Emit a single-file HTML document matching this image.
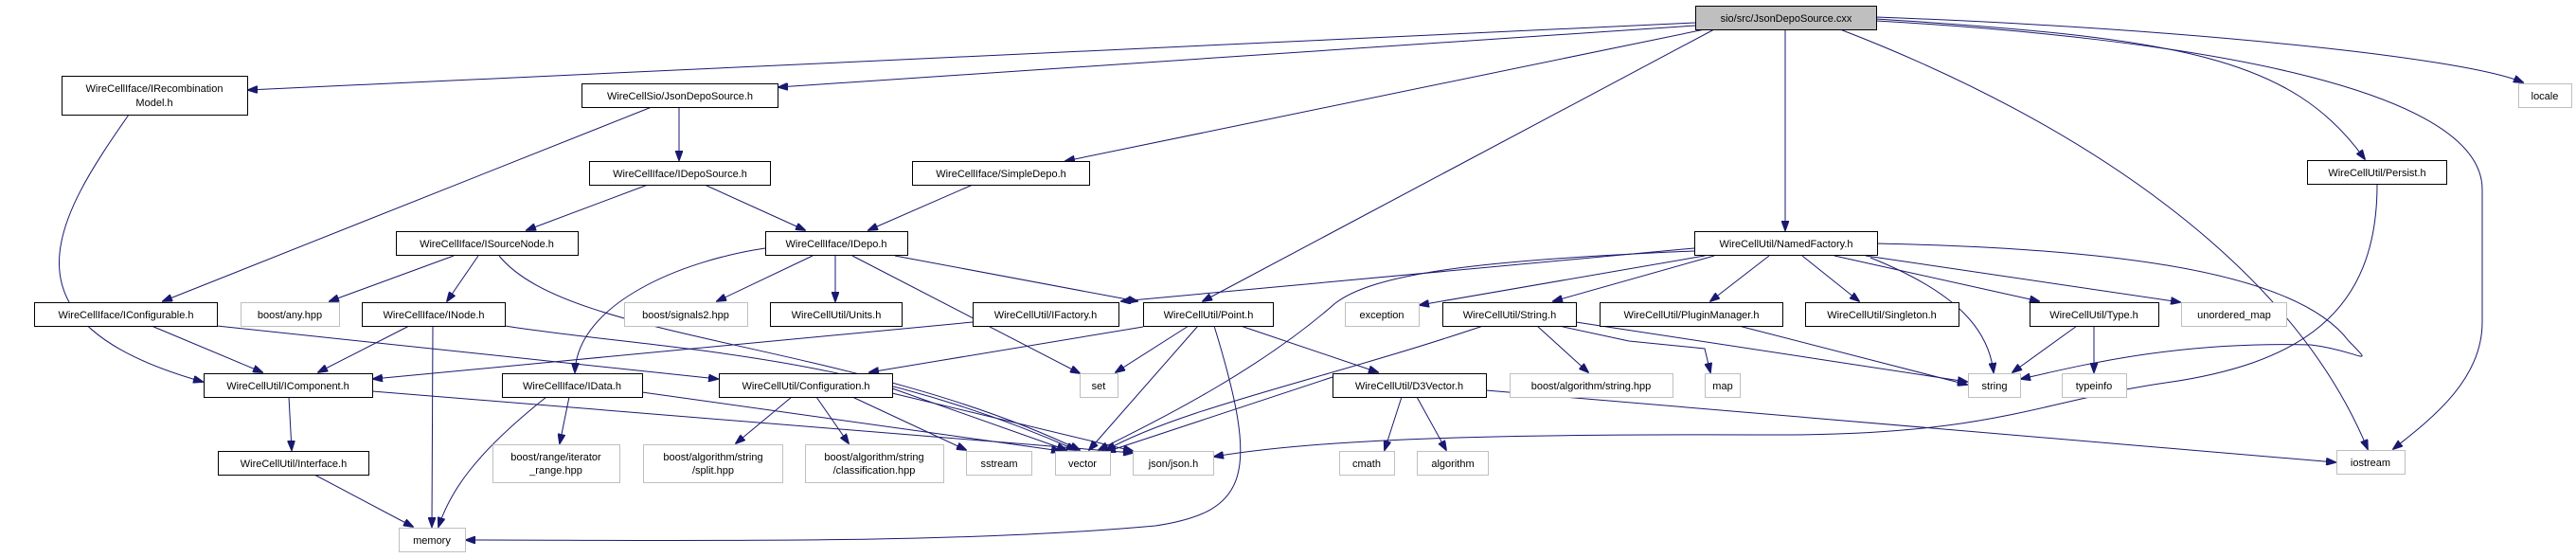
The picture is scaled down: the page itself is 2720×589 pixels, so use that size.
<!DOCTYPE html>
<html><head><meta charset="utf-8"><style>
html,body{margin:0;padding:0;background:#fff}
svg{display:block}
text{font-family:"Liberation Sans",Arial,sans-serif;font-size:11px;fill:#000}
.n rect{fill:#fff;stroke:#000;stroke-width:1}
.g rect{fill:#fff;stroke:#bfbfbf;stroke-width:1}
path{fill:none;stroke:#191970;stroke-width:1}
</style></head><body>
<svg width="2720" height="589" viewBox="0 0 2720 589" xmlns="http://www.w3.org/2000/svg">
<defs><marker id="a" markerWidth="11" markerHeight="8" refX="10" refY="4" orient="auto" markerUnits="userSpaceOnUse"><path d="M0,0 L11,4 L0,8 Z" style="fill:#191970;stroke:#191970"/></marker></defs>
<g marker-end="url(#a)">
<path d="M1790,24 L262,95"/>
<path d="M1790,27 L822,92"/>
<path d="M1800,31 L1125,170"/>
<path d="M1810,31 L1270,318"/>
<path d="M1885,31 L1885,243"/>
<path d="M1981,20 C2300,40 2420,60 2497,168"/>
<path d="M1981,18 C2300,30 2600,60 2664,87"/>
<path d="M1943,31 C2200,130 2420,280 2500,474"/>
<path d="M1981,22 C2300,40 2621,90 2621,200 L2621,340 C2621,400 2570,440 2527,474"/>
<path d="M717,113 L717,169"/>
<path d="M688,113 L172,318"/>
<path d="M136,121 C60,230 -10,340 214,403"/>
<path d="M684,195 L556,243"/>
<path d="M744,195 L850,243"/>
<path d="M1027,195 L917,243"/>
<path d="M479,270 L348,318"/>
<path d="M505,270 L472,318"/>
<path d="M527,270 C600,360 900,360 1140,475"/>
<path d="M808,262 C720,275 610,320 607,393"/>
<path d="M858,270 L757,318"/>
<path d="M882,270 L882,318"/>
<path d="M900,270 L1140,394"/>
<path d="M945,270 L1201,318"/>
<path d="M432,344 L336,393"/>
<path d="M457,344 L456,556"/>
<path d="M533,344 C700,370 900,370 1136,475"/>
<path d="M160,344 L277,393"/>
<path d="M229,344 L758,400"/>
<path d="M305,419 L308,475"/>
<path d="M393,413 L1196,478"/>
<path d="M577,419 C500,480 475,520 463,556"/>
<path d="M601,419 L591,468"/>
<path d="M678,414 L1120,476"/>
<path d="M332,501 L436,556"/>
<path d="M836,419 L777,468"/>
<path d="M862,419 L896,468"/>
<path d="M900,419 L1020,475"/>
<path d="M942,410 L1126,475"/>
<path d="M942,415 L1196,476"/>
<path d="M1027,340 L394,400"/>
<path d="M1207,345 L918,393"/>
<path d="M1255,344 L1178,393"/>
<path d="M1265,344 L1150,475"/>
<path d="M1282,344 C1330,500 1320,540 1220,555 C1000,575 700,570 492,570"/>
<path d="M1310,344 L1455,393"/>
<path d="M1789,262 L1184,318"/>
<path d="M1789,265 C1550,275 1450,290 1410,320 C1330,390 1230,440 1160,475"/>
<path d="M1800,270 L1499,322"/>
<path d="M1810,270 L1640,318"/>
<path d="M1868,270 L1806,318"/>
<path d="M1903,270 L1963,318"/>
<path d="M1937,270 L2153,318"/>
<path d="M1970,270 L2302,319"/>
<path d="M1975,272 C2070,310 2100,350 2105,393"/>
<path d="M1982,257 C2200,262 2420,280 2480,360 C2510,390 2490,370 2440,364 C2300,360 2200,385 2134,400"/>
<path d="M2193,344 L2125,393"/>
<path d="M2211,344 L2211,393"/>
<path d="M1566,344 C1400,400 1250,430 1168,475"/>
<path d="M1623,344 L1677,393"/>
<path d="M1646,344 L1720,360 L1800,368 L1806,393"/>
<path d="M1664,340 L2077,403"/>
<path d="M1836,344 L2077,406"/>
<path d="M1407,398 L1168,477"/>
<path d="M1480,419 L1462,475"/>
<path d="M1496,419 L1527,475"/>
<path d="M1569,412 L2466,488"/>
<path d="M2510,195 C2510,330 2430,385 2280,405 C2150,425 2100,460 1870,459 C1600,458 1400,462 1282,482"/>
</g>
<g class="n"><rect x="1790.5" y="6.5" width="191" height="25" style="fill:#bfbfbf"/><text x="1886" y="23" text-anchor="middle">sio/src/JsonDepoSource.cxx</text></g>
<g class="n"><rect x="65.5" y="80.5" width="196" height="41"/><text x="163" y="97" text-anchor="middle">WireCellIface/IRecombination</text><text x="163" y="112" text-anchor="middle">Model.h</text></g>
<g class="n"><rect x="614.5" y="88.5" width="207" height="25"/><text x="718" y="105" text-anchor="middle">WireCellSio/JsonDepoSource.h</text></g>
<g class="n"><rect x="963.5" y="170.5" width="187" height="25"/><text x="1057" y="187" text-anchor="middle">WireCellIface/SimpleDepo.h</text></g>
<g class="n"><rect x="622.5" y="170.5" width="191" height="25"/><text x="718" y="187" text-anchor="middle">WireCellIface/IDepoSource.h</text></g>
<g class="n"><rect x="418.5" y="244.5" width="192" height="25"/><text x="514" y="261" text-anchor="middle">WireCellIface/ISourceNode.h</text></g>
<g class="n"><rect x="808.5" y="244.5" width="150" height="25"/><text x="883" y="261" text-anchor="middle">WireCellIface/IDepo.h</text></g>
<g class="n"><rect x="1789.5" y="244.5" width="193" height="25"/><text x="1886" y="261" text-anchor="middle">WireCellUtil/NamedFactory.h</text></g>
<g class="n"><rect x="2436.5" y="169.5" width="147" height="25"/><text x="2510" y="186" text-anchor="middle">WireCellUtil/Persist.h</text></g>
<g class="g"><rect x="2659.5" y="88.5" width="56" height="25"/><text x="2687" y="105" text-anchor="middle">locale</text></g>
<g class="n"><rect x="36.5" y="319.5" width="193" height="25"/><text x="133" y="336" text-anchor="middle">WireCellIface/IConfigurable.h</text></g>
<g class="g"><rect x="254.5" y="319.5" width="104" height="25"/><text x="306" y="336" text-anchor="middle">boost/any.hpp</text></g>
<g class="n"><rect x="382.5" y="319.5" width="151" height="25"/><text x="458" y="336" text-anchor="middle">WireCellIface/INode.h</text></g>
<g class="g"><rect x="659.5" y="319.5" width="130" height="25"/><text x="724" y="336" text-anchor="middle">boost/signals2.hpp</text></g>
<g class="n"><rect x="813.5" y="319.5" width="139" height="25"/><text x="883" y="336" text-anchor="middle">WireCellUtil/Units.h</text></g>
<g class="n"><rect x="1027.5" y="319.5" width="154" height="25"/><text x="1104" y="336" text-anchor="middle">WireCellUtil/IFactory.h</text></g>
<g class="n"><rect x="1207.5" y="319.5" width="137" height="25"/><text x="1276" y="336" text-anchor="middle">WireCellUtil/Point.h</text></g>
<g class="g"><rect x="1420.5" y="319.5" width="78" height="25"/><text x="1459" y="336" text-anchor="middle">exception</text></g>
<g class="n"><rect x="1523.5" y="319.5" width="141" height="25"/><text x="1594" y="336" text-anchor="middle">WireCellUtil/String.h</text></g>
<g class="n"><rect x="1689.5" y="319.5" width="193" height="25"/><text x="1786" y="336" text-anchor="middle">WireCellUtil/PluginManager.h</text></g>
<g class="n"><rect x="1906.5" y="319.5" width="162" height="25"/><text x="1987" y="336" text-anchor="middle">WireCellUtil/Singleton.h</text></g>
<g class="n"><rect x="2143.5" y="319.5" width="136" height="25"/><text x="2211" y="336" text-anchor="middle">WireCellUtil/Type.h</text></g>
<g class="g"><rect x="2303.5" y="319.5" width="111" height="25"/><text x="2359" y="336" text-anchor="middle">unordered_map</text></g>
<g class="n"><rect x="215.5" y="394.5" width="178" height="25"/><text x="304" y="411" text-anchor="middle">WireCellUtil/IComponent.h</text></g>
<g class="n"><rect x="530.5" y="394.5" width="148" height="25"/><text x="604" y="411" text-anchor="middle">WireCellIface/IData.h</text></g>
<g class="n"><rect x="759.5" y="394.5" width="183" height="25"/><text x="851" y="411" text-anchor="middle">WireCellUtil/Configuration.h</text></g>
<g class="g"><rect x="1140.5" y="394.5" width="40" height="25"/><text x="1160" y="411" text-anchor="middle">set</text></g>
<g class="n"><rect x="1407.5" y="394.5" width="162" height="25"/><text x="1488" y="411" text-anchor="middle">WireCellUtil/D3Vector.h</text></g>
<g class="g"><rect x="1594.5" y="394.5" width="172" height="25"/><text x="1680" y="411" text-anchor="middle">boost/algorithm/string.hpp</text></g>
<g class="g"><rect x="1800.5" y="394.5" width="37" height="25"/><text x="1819" y="411" text-anchor="middle">map</text></g>
<g class="g"><rect x="2078.5" y="394.5" width="55" height="25"/><text x="2106" y="411" text-anchor="middle">string</text></g>
<g class="g"><rect x="2177.5" y="394.5" width="68" height="25"/><text x="2211" y="411" text-anchor="middle">typeinfo</text></g>
<g class="n"><rect x="230.5" y="476.5" width="159" height="25"/><text x="310" y="493" text-anchor="middle">WireCellUtil/Interface.h</text></g>
<g class="g"><rect x="520.5" y="469.5" width="134" height="40"/><text x="587" y="486" text-anchor="middle">boost/range/iterator</text><text x="587" y="500" text-anchor="middle">_range.hpp</text></g>
<g class="g"><rect x="679.5" y="469.5" width="147" height="40"/><text x="753" y="486" text-anchor="middle">boost/algorithm/string</text><text x="753" y="500" text-anchor="middle">/split.hpp</text></g>
<g class="g"><rect x="850.5" y="469.5" width="146" height="40"/><text x="923" y="486" text-anchor="middle">boost/algorithm/string</text><text x="923" y="500" text-anchor="middle">/classification.hpp</text></g>
<g class="g"><rect x="1020.5" y="476.5" width="69" height="25"/><text x="1055" y="493" text-anchor="middle">sstream</text></g>
<g class="g"><rect x="1114.5" y="476.5" width="58" height="25"/><text x="1143" y="493" text-anchor="middle">vector</text></g>
<g class="g"><rect x="1196.5" y="476.5" width="85" height="25"/><text x="1239" y="493" text-anchor="middle">json/json.h</text></g>
<g class="g"><rect x="1414.5" y="476.5" width="58" height="25"/><text x="1443" y="493" text-anchor="middle">cmath</text></g>
<g class="g"><rect x="1496.5" y="476.5" width="75" height="25"/><text x="1534" y="493" text-anchor="middle">algorithm</text></g>
<g class="g"><rect x="2467.5" y="475.5" width="72" height="25"/><text x="2503" y="492" text-anchor="middle">iostream</text></g>
<g class="g"><rect x="421.5" y="557.5" width="70" height="25"/><text x="456" y="574" text-anchor="middle">memory</text></g>
</svg>
</body></html>
